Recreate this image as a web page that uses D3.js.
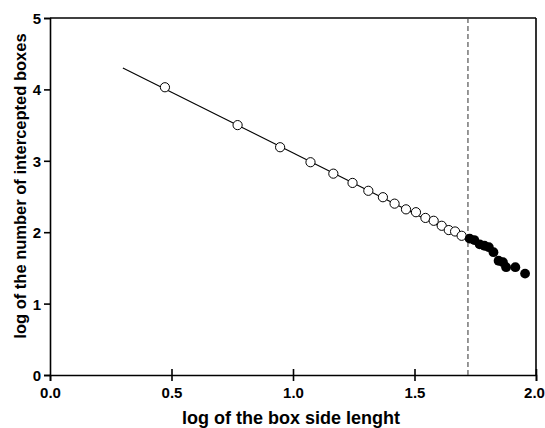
<!DOCTYPE html>
<html>
<head>
<meta charset="utf-8"/>
<script src="https://d3js.org/d3.v7.min.js"></script>
<style>
  body { margin: 0; background: #fff; }
  svg text { font-family: "Liberation Sans", Arial, sans-serif; font-weight: bold; }
</style>
</head>
<body>
<div id="chart"></div>
<script>
// open circles (fitted region)
var openX = [0.473, 0.772, 0.947, 1.072, 1.166, 1.245, 1.31, 1.37, 1.418, 1.465, 1.506, 1.545, 1.579, 1.612, 1.641, 1.667, 1.694];
var openY = [4.03, 3.50, 3.19, 2.98, 2.82, 2.69, 2.58, 2.49, 2.40, 2.32, 2.28, 2.20, 2.16, 2.09, 2.03, 2.01, 1.95];
// filled circles (beyond cutoff)
var fillX = [1.727, 1.746, 1.768, 1.788, 1.806, 1.825, 1.846, 1.864, 1.877, 1.915, 1.955];
var fillY = [1.91, 1.89, 1.83, 1.81, 1.79, 1.72, 1.60, 1.58, 1.51, 1.51, 1.42];
// regression line end points
var fitX = [0.30, 1.70];
var fitY = [4.30, 1.92];
var cutoff = 1.72;
var xTicks = [0, 0.5, 1.0, 1.5, 2.0];
var yTicks = [0, 1, 2, 3, 4, 5];

var width = 545, height = 428;
var margin = {left: 50, right: 9, top: 18, bottom: 53};

var svg = d3.select("#chart").append("svg")
    .attr("width", width)
    .attr("height", height);

var x = d3.scaleLinear().domain([0, 2]).range([margin.left, width - margin.right]);
var y = d3.scaleLinear().domain([0, 5]).range([height - margin.bottom, margin.top]);

// frame top / right
svg.append("line")
    .attr("x1", x(0)).attr("x2", x(2)).attr("y1", y(5)).attr("y2", y(5))
    .attr("stroke", "#000").attr("stroke-width", 1.6);
svg.append("line")
    .attr("x1", x(2)).attr("x2", x(2)).attr("y1", y(0)).attr("y2", y(5))
    .attr("stroke", "#000").attr("stroke-width", 1.6);

var xAxis = svg.append("g")
    .attr("transform", "translate(0," + y(0) + ")")
    .call(d3.axisBottom(x).tickValues(xTicks).tickFormat(d3.format(".1f")).tickSize(6).tickPadding(3));
var yAxis = svg.append("g")
    .attr("transform", "translate(" + x(0) + ",0)")
    .call(d3.axisLeft(y).tickValues(yTicks).tickFormat(d3.format("d")).tickSize(6).tickPadding(3));

[xAxis, yAxis].forEach(function(g){
    g.attr("font-family", '"Liberation Sans", Arial, sans-serif').attr("font-weight", "bold");
    g.select(".domain").attr("stroke-width", 1.6);
    g.selectAll(".tick line").attr("stroke-width", 1.6);
    g.selectAll(".tick text").attr("font-size", 15).attr("fill", "#000")
        .attr("font-weight", "bold");
});
xAxis.selectAll(".tick line").attr("y1", -6).attr("y2", 6);
xAxis.selectAll(".tick").filter(function(d){ return d == 0; }).select("line").attr("y1", 0);
xAxis.selectAll(".tick text").attr("dy", "0.95em");
xAxis.selectAll(".tick").filter(function(d){ return d == 2; }).select("text").attr("dx", -2);
yAxis.selectAll(".tick text").attr("dy", "0.36em");

// dashed cutoff
svg.append("line")
    .attr("x1", x(cutoff)).attr("x2", x(cutoff))
    .attr("y1", y(0)).attr("y2", y(5))
    .attr("stroke", "#444").attr("stroke-width", 1.1)
    .attr("stroke-dasharray", "5,3");

// fit line
svg.append("line")
    .attr("x1", x(fitX[0])).attr("y1", y(fitY[0]))
    .attr("x2", x(fitX[1])).attr("y2", y(fitY[1]))
    .attr("stroke", "#000").attr("stroke-width", 1.1);

svg.selectAll(".open").data(openX).enter().append("circle")
    .attr("class", "open")
    .attr("cx", function(d){ return x(d); })
    .attr("cy", function(d, i){ return y(openY[i]); })
    .attr("r", 4.6)
    .attr("fill", "#fff").attr("stroke", "#000").attr("stroke-width", 1);

svg.selectAll(".filled").data(fillX).enter().append("circle")
    .attr("class", "filled")
    .attr("cx", function(d){ return x(d); })
    .attr("cy", function(d, i){ return y(fillY[i]); })
    .attr("r", 4.9)
    .attr("fill", "#000");

svg.append("text")
    .attr("x", 291).attr("y", 424)
    .attr("text-anchor", "middle").attr("font-size", 18)
    .text("log of the box side lenght");

svg.append("text")
    .attr("transform", "translate(26,186) rotate(-90)")
    .attr("text-anchor", "middle").attr("font-size", 16.5)
    .text("log of the number of intercepted boxes");
</script>
</body>
</html>
